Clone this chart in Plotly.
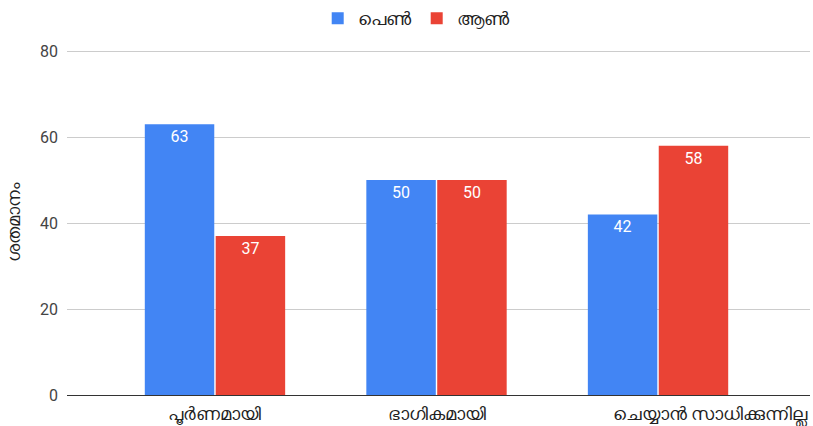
import plotly.graph_objects as go

categories = ["പൂർണമായി", "ഭാഗികമായി", "ചെയ്യാൻ സാധിക്കുന്നില്ല"]
female = [63, 50, 42]
male = [37, 50, 58]
series_names = ["പെൺ", "ആൺ"]
y_title = "ശതമാനം"
y_ticks = [0, 20, 40, 60, 80]

fig = go.Figure()
fig.add_trace(go.Bar(
    x=categories, y=female, name=series_names[0],
    marker=dict(color="#4285F4", line=dict(width=0)),
    text=female, textposition="inside", insidetextanchor="end",
    textfont=dict(color="white", size=16, family="Roboto"),
))
fig.add_trace(go.Bar(
    x=categories, y=male, name=series_names[1],
    marker=dict(color="#EA4335", line=dict(width=0)),
    text=male, textposition="inside", insidetextanchor="end",
    textfont=dict(color="white", size=16, family="Roboto"),
))

# category labels: Google Charts keeps the long last label inside the chart edge
for i, cat in enumerate(categories):
    last = i == len(categories) - 1
    fig.add_annotation(
        text=cat, showarrow=False,
        xref="paper" if last else "x", x=1.0 if last else cat,
        xanchor="right" if last else "center",
        yref="paper", y=0, yanchor="top", yshift=-6,
        font=dict(size=18, color="#222"),
    )

fig.update_layout(
    width=813, height=426,
    margin=dict(l=67, r=3, t=49, b=31, autoexpand=False),
    paper_bgcolor="white", plot_bgcolor="white",
    barmode="group", bargap=0.36, bargroupgap=0.02,
    font=dict(family="Roboto, Noto Sans, sans-serif", color="#222", size=13),
    legend=dict(orientation="h", x=0.47, xanchor="center",
                y=1.0, yanchor="top", yref="container",
                font=dict(size=18, color="#222"), itemwidth=30, traceorder="normal"),
    xaxis=dict(type="category", range=[-0.668, 2.686], showgrid=False,
               showticklabels=False, ticks="", showline=False, automargin=False),
    yaxis=dict(range=[0, 80.5], tickvals=y_ticks, showgrid=True, gridcolor="#cccccc",
               zeroline=True, zerolinecolor="#333333", zerolinewidth=1,
               tickfont=dict(size=16, color="#444"), ticks="", automargin=False,
               ticklabelstandoff=8,
               title=dict(text=y_title, font=dict(size=18, color="#222"), standoff=14)),
)

fig.write_html("out.html", config={"displayModeBar": False},
               post_script="document.body.style.margin='0';")
